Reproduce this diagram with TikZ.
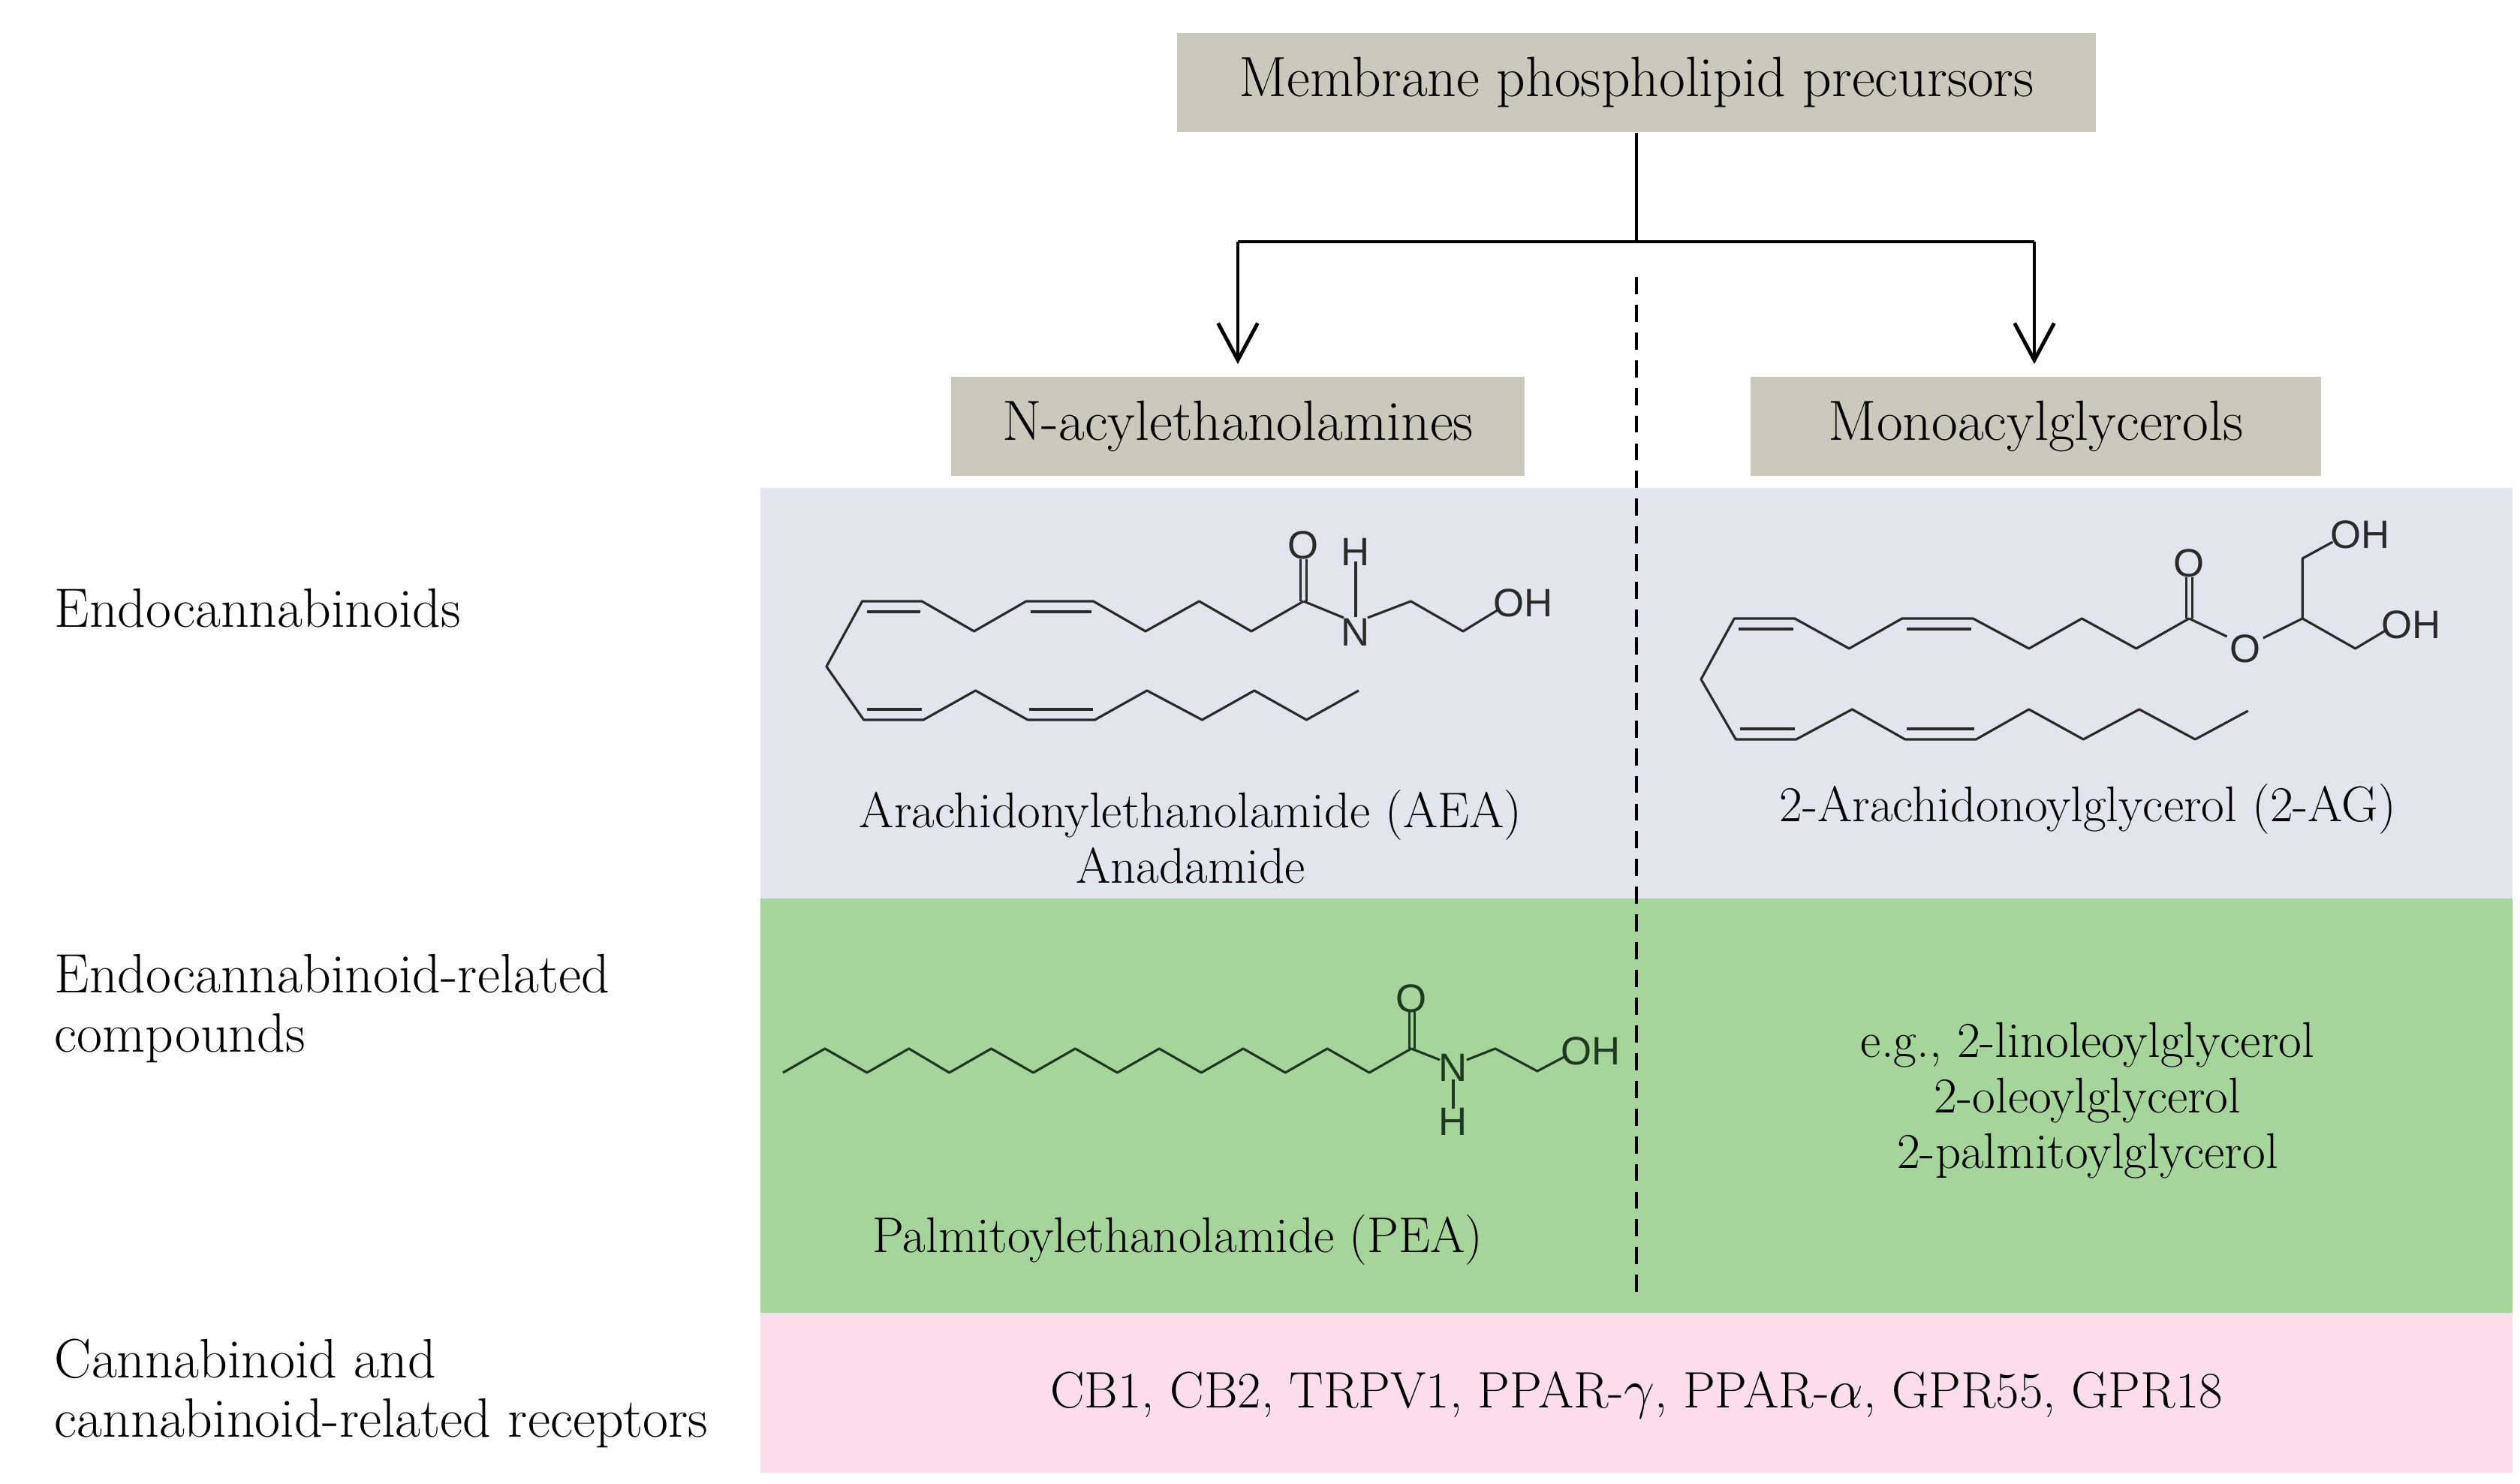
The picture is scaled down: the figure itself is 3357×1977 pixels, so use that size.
\documentclass[tikz,border=0pt]{standalone}
\usepackage{fontspec}
\usetikzlibrary{arrows.meta}
\newfontfamily\chemf{Liberation Sans}
\definecolor{boxc}{HTML}{CBC8BC}
\definecolor{grayb}{HTML}{E3E5EE}
\definecolor{greenb}{HTML}{A5D59A}
\definecolor{pinkb}{HTML}{FCDDEB}
\definecolor{chem}{HTML}{2A2A2A}
\definecolor{chemg}{HTML}{1E3A1E}
\begin{document}
\begin{tikzpicture}[x=0.01cm,y=-0.01cm,
  hdr/.style={fill=boxc,minimum width=#1,minimum height=37.8pt,inner sep=0pt,font=\fontsize{21.5}{25}\selectfont},
  lbl/.style={anchor=west,align=left,font=\fontsize{21}{22.5}\selectfont,inner sep=0pt},
  cname/.style={font=\fontsize{19}{21}\selectfont,inner sep=0pt,align=center},
  atom/.style={font=\chemf\fontsize{15}{15}\selectfont,inner sep=0pt},
  bond/.style={line width=0.9pt,line join=round},
  arr/.style={line width=1.4pt,-{Straight Barb[length=14pt,width=15pt,line width=1.4pt]}}]
\useasboundingbox (0,0) rectangle (3357,1977);
\fill[white] (0,0) rectangle (3357,1977);
% bands
\fill[grayb] (1013,650) rectangle (3347,1197);
\fill[greenb] (1013,1197) rectangle (3347,1749);
\fill[pinkb] (1013,1749) rectangle (3347,1962);
% header boxes
\node[hdr=348pt] (top) at (2180,110) {Membrane phospholipid precursors};
\node[hdr=217pt] (nae) at (1649,568) {N-acylethanolamines};
\node[hdr=216pt] (mag) at (2712,568) {Monoacylglycerols};
\coordinate (j) at (2180,322);
\coordinate (jl) at (1649,322);
\coordinate (jr) at (2710,322);
\coordinate (al) at (1649,485);
\coordinate (ar) at (2710,485);
\draw[line width=1.4pt] (top.south) -- (j);
\draw[line width=1.4pt] (jl) -- (jr);
\draw[arr] (jl) -- (al);
\draw[arr] (jr) -- (ar);
\coordinate (d1) at (2180,369);
\coordinate (d2) at (2180,1727);
\draw[line width=1.2pt,dash pattern=on 6.5pt off 4pt] (d1) -- (d2);
% left labels
\node[lbl] (l1) at (72,810) {Endocannabinoids};
\node[lbl] (l2) at (72,1344) {Endocannabinoid-related\\compounds};
\node[lbl] (l3) at (72,1856) {Cannabinoid and\\cannabinoid-related receptors};
% AEA
\begin{scope}[shift={(1095,8)},xscale=1.986,shift={(-1080,0)}]
\begin{scope}[bond,draw=chem]
\draw (1403,793) -- (1368,833) -- (1333,793) -- (1297,833) -- (1262,793) -- (1217,793) -- (1182,833) -- (1147,793) -- (1107,793) -- (1083,880) -- (1108,951) -- (1148,951) -- (1183,912) -- (1218,951) -- (1263,951) -- (1298,912) -- (1335,951) -- (1370,912) -- (1405,951) -- (1440,912);
\draw (1110,807) -- (1146,807); \draw (1220,807) -- (1261,807);
\draw (1110,937) -- (1147,937); \draw (1219,937) -- (1262,937);
\draw (1401,793) -- (1401,737); \draw (1405,793) -- (1405,737);
\draw (1403,793) -- (1430,815);
\draw (1438,814) -- (1438,740);
\draw (1446,815) -- (1475,793) -- (1510,833) -- (1533,805);
\end{scope}
\node[atom,text=chem] (aO) at (1403,718) {O};
\node[atom,text=chem] (aH) at (1438,727) {H};
\node[atom,text=chem] (aN) at (1438,834) {N};
\node[atom,text=chem,anchor=west] (aOH) at (1530,795) {OH};
\end{scope}
\node[cname] (aea) at (1586,1115) {Arachidonylethanolamide (AEA)\\Anadamide};
% 2-AG
\begin{scope}[shift={(2266,12)},xscale=2.013,shift={(-2240,0)}]
\begin{scope}[bond,draw=chem]
\draw (2563,812) -- (2528,852) -- (2492,812) -- (2457,852) -- (2420,812) -- (2373,812) -- (2338,852) -- (2302,812) -- (2262,812) -- (2240,893) -- (2263,973) -- (2303,973) -- (2340,933) -- (2375,973) -- (2422,973) -- (2457,933) -- (2493,973) -- (2530,933) -- (2567,973) -- (2602,935);
\draw (2265,826) -- (2301,826); \draw (2376,826) -- (2419,826);
\draw (2266,959) -- (2302,959); \draw (2376,959) -- (2421,959);
\draw (2561,812) -- (2561,757); \draw (2565,812) -- (2565,757);
\draw (2563,812) -- (2588,836);
\draw (2612,838) -- (2638,812) -- (2638,732) -- (2658,710);
\draw (2638,812) -- (2673,852) -- (2693,828);
\end{scope}
\node[atom,text=chem] (gO) at (2563,738) {O};
\node[atom,text=chem] (gO2) at (2600,852) {O};
\node[atom,text=chem,anchor=west] (gOH1) at (2656,700) {OH};
\node[atom,text=chem,anchor=west] (gOH2) at (2690,820) {OH};
\end{scope}
\node[cname] (ag) at (2781,1078) {2-Arachidonoylglycerol (2-AG)};
% PEA
\begin{scope}[shift={(1043,22)},xscale=2.238,shift={(-1023,0)}]
\begin{scope}[bond,draw=chemg]
\draw (1023,1407) -- (1048,1375) -- (1073,1407) -- (1098,1375) -- (1122,1407) -- (1147,1375) -- (1172,1407) -- (1197,1375) -- (1222,1407) -- (1247,1375) -- (1272,1407) -- (1297,1375) -- (1322,1407) -- (1347,1375) -- (1372,1407) -- (1397,1375) -- (1414,1390);
\draw (1396,1375) -- (1396,1325); \draw (1399,1375) -- (1399,1325);
\draw (1422,1416) -- (1422,1455);
\draw (1430,1390) -- (1447,1375) -- (1472,1405) -- (1488,1386);
\end{scope}
\node[atom,text=chemg] (pO) at (1397,1308) {O};
\node[atom,text=chemg] (pN) at (1422,1400) {N};
\node[atom,text=chemg] (pH) at (1422,1472) {H};
\node[atom,text=chemg,anchor=west] (pOH) at (1486,1378) {OH};
\end{scope}
\node[cname] (pea) at (1569,1652) {Palmitoylethanolamide (PEA)};
\node[cname,font=\fontsize{19}{21}\selectfont] (eg) at (2781,1466) {e.g., 2-linoleoylglycerol\\2-oleoylglycerol\\2-palmitoylglycerol};
% receptors
\node[cname,font=\fontsize{19.4}{22}\selectfont] (rec) at (2180,1858) {CB1, CB2, TRPV1, PPAR-$\gamma$, PPAR-$\alpha$, GPR55, GPR18};
\end{tikzpicture}
\end{document}
